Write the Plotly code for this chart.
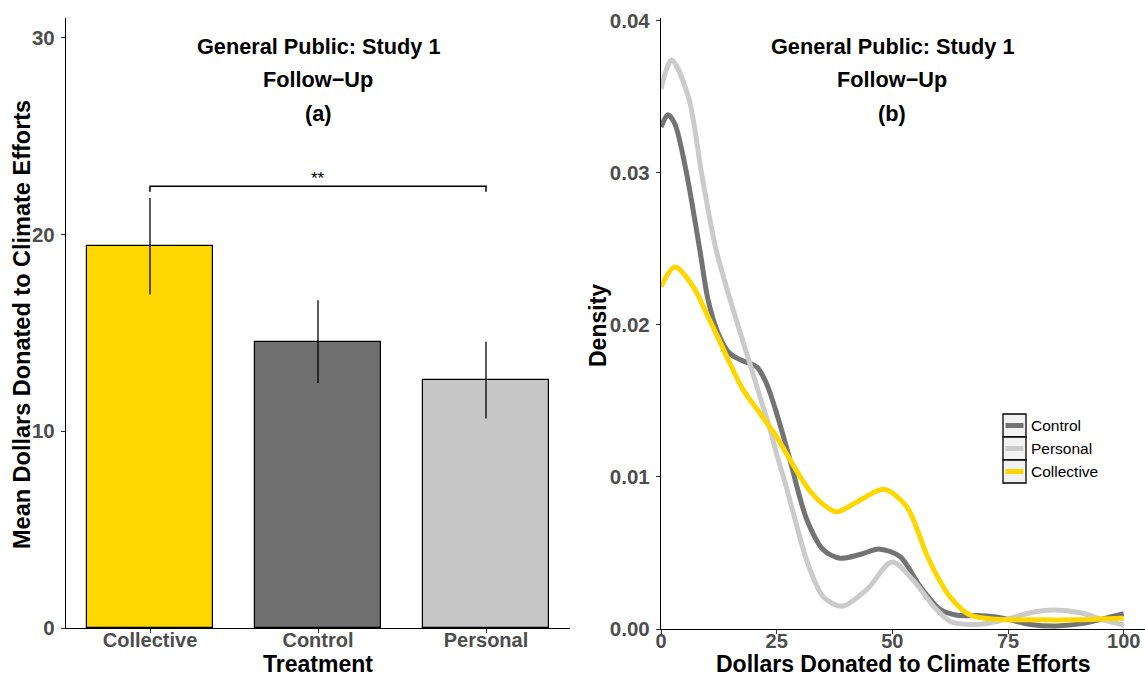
import plotly.graph_objects as go

# ---------------- data ----------------
treatments = ["Collective", "Control", "Personal"]
mean_donation = [19.4, 14.55, 12.6]
se_donation = [2.45, 2.1, 1.95]
bar_colors = ["#FFD700", "#707070", "#C6C6C6"]

sig_pair = ["Collective", "Personal"]
sig_height = 22.45
sig_drop = 0.28
sig_label = "**"

control_x = [0, 1.5, 3, 5.5, 8.4, 10.2, 12.4, 14.9, 17.4, 20.7, 22.8, 25, 27.5, 31.5, 35.1, 38.7,
             43, 47.3, 51.7, 56, 60.3, 64, 68, 72, 75.4, 79.8, 85.5, 91.3, 96, 100]
control_d = [0.0330, 0.0338, 0.0332, 0.0300, 0.0249, 0.0216, 0.0194, 0.0181, 0.01767, 0.01723,
             0.01614, 0.01417, 0.01154, 0.0072, 0.0052, 0.00465, 0.0049, 0.00525, 0.00475, 0.0028,
             0.0013, 0.0009, 0.00088, 0.0008, 0.0006, 0.0003, 0.0002, 0.00037, 0.0007, 0.001]

personal_x = [0, 2.3, 5.9, 8.8, 11.7, 14.2, 17.1, 19.2, 21.4, 23.6, 25, 27.2, 29.5, 31.5, 35.1,
              39.1, 44.5, 49.9, 54.5, 58.9, 62.5, 66.8, 71.1, 75.4, 79.8, 84.8, 90.6, 95.6, 100]
personal_d = [0.0355, 0.0374, 0.0350, 0.0299, 0.0252, 0.0224, 0.0195, 0.01745, 0.01526, 0.01307,
              0.0115, 0.0092, 0.0066, 0.0045, 0.0021, 0.0015, 0.0026, 0.0044, 0.0032, 0.0015,
              0.0005, 0.0003, 0.0004, 0.0007, 0.00107, 0.00125, 0.00107, 0.0006, 0.00026]

collective_x = [0, 3, 7, 9.9, 12.4, 14.9, 17.8, 21.4, 25, 27.5, 31.5, 35, 38, 43, 48.2, 53.1,
                57.4, 60, 62.5, 66.8, 72.6, 80, 90, 100]
collective_d = [0.0225, 0.0238, 0.02248, 0.0207, 0.0191, 0.01745, 0.0157, 0.01417, 0.01263,
                0.01132, 0.00935, 0.0082, 0.0077, 0.00847, 0.00918, 0.00804, 0.0049, 0.0033,
                0.0021, 0.00092, 0.00064, 0.0006, 0.0006, 0.0007]

density_series = [
    ("Control", control_x, control_d, "#737373"),
    ("Personal", personal_x, personal_d, "#CBCBCB"),
    ("Collective", collective_x, collective_d, "#FFD700"),
]

title_lines_a = ["General Public: Study 1", "Follow\u2212Up", "(a)"]
title_lines_b = ["General Public: Study 1", "Follow\u2212Up", "(b)"]

# ---------------- layout helpers ----------------
W, H = 1145, 676
FONT = "Liberation Sans, Arial, Helvetica, sans-serif"
TICK_GREY = "#4D4D4D"


def px(xp):
    return xp / W


def py(yp):
    return 1 - yp / H


fig = go.Figure()

# ---------------- panel (a): bars ----------------
fig.add_trace(go.Bar(
    x=treatments, y=mean_donation, width=0.75,
    marker=dict(color=bar_colors, line=dict(color="black", width=1.2)),
    error_y=dict(type="data", array=se_donation, color="black", thickness=1.3, width=0),
    xaxis="x", yaxis="y", showlegend=False,
))

fig.add_trace(go.Scatter(
    x=[sig_pair[0], sig_pair[0], sig_pair[1], sig_pair[1]],
    y=[sig_height - sig_drop, sig_height, sig_height, sig_height - sig_drop],
    mode="lines", line=dict(color="black", width=1.5),
    xaxis="x", yaxis="y", showlegend=False, hoverinfo="skip",
))

# ---------------- panel (b): density ----------------
for name, xs, ds, col in density_series:
    fig.add_trace(go.Scatter(
        x=xs, y=ds, mode="lines", name=name,
        line=dict(color=col, width=5, shape="spline", smoothing=0.85),
        xaxis="x2", yaxis="y2", showlegend=False,
    ))

axis_common = dict(
    showline=True, linecolor="black", linewidth=1.3,
    ticks="outside", ticklen=4, tickwidth=1.2, tickcolor="#333333",
    showgrid=False, zeroline=False, automargin=False,
)
tick_font = dict(family=FONT, size=20.5, color=TICK_GREY, weight="bold")
xtick_font = dict(family=FONT, size=20, color=TICK_GREY, weight="bold")

fig.update_layout(
    template="none",
    width=W, height=H,
    margin=dict(l=0, r=0, t=0, b=0, pad=0),
    paper_bgcolor="white", plot_bgcolor="white",
    bargap=0,
    xaxis=dict(domain=[px(66), px(570)], range=[-0.5, 2.5], type="category",
               anchor="y", ticklabelstandoff=-10, tickfont=xtick_font, **axis_common),
    yaxis=dict(domain=[py(628), py(18)], range=[0, 31.0], tickvals=[0, 10, 20, 30],
               anchor="x", ticklabelstandoff=2, tickfont=tick_font, **axis_common),
    xaxis2=dict(domain=[px(661), 1.0], range=[0, 104.6], tickvals=[0, 25, 50, 75, 100],
                anchor="y2", ticklabelstandoff=-10, tickfont=xtick_font, **axis_common),
    yaxis2=dict(domain=[py(629), py(18)], range=[0, 0.04 * 611 / 608.5],
                tickvals=[0, 0.01, 0.02, 0.03, 0.04], tickformat=".2f",
                anchor="x2", ticklabelstandoff=2, tickfont=tick_font, **axis_common),
)

ann = []
# titles
title_rows_px = [46, 80, 113]
title_font = dict(family=FONT, size=21.7, color="black", weight="bold")
for line, yp in zip(title_lines_a, title_rows_px):
    ann.append(dict(text=line, x=1, xref="x", y=py(yp), yref="paper", showarrow=False,
                    xanchor="center", yanchor="middle", font=title_font))
for line, yp in zip(title_lines_b, title_rows_px):
    ann.append(dict(text=line, x=50, xref="x2", y=py(yp), yref="paper", showarrow=False,
                    xanchor="center", yanchor="middle", font=title_font))

# significance stars
ann.append(dict(text=sig_label, x=1, xref="x", y=sig_height, yref="y", showarrow=False,
                xanchor="center", yanchor="bottom", yshift=-4,
                font=dict(family=FONT, size=17, color="black")))

# axis titles
axis_title_font = dict(family=FONT, size=23, color="black", weight="bold")
ann.append(dict(text="Treatment", x=1, xref="x", y=py(663.5), yref="paper", showarrow=False,
                xanchor="center", yanchor="middle", font=axis_title_font))
ann.append(dict(text="Mean Dollars Donated to Climate Efforts", x=px(22), xref="paper",
                y=py(325), yref="paper", showarrow=False, textangle=-90,
                xanchor="center", yanchor="middle",
                font=dict(family=FONT, size=23.5, color="black", weight="bold")))
ann.append(dict(text="Dollars Donated to Climate Efforts", x=px(903), xref="paper",
                y=py(663.5), yref="paper", showarrow=False,
                xanchor="center", yanchor="middle", font=axis_title_font))
ann.append(dict(text="Density", x=px(598), xref="paper", y=py(326), yref="paper",
                showarrow=False, textangle=-90, xanchor="center", yanchor="middle",
                font=dict(family=FONT, size=23, color="black", weight="bold")))

# custom legend (ggplot-style keys)
shapes = []
key_left, key_right = 1003, 1026
key_top, key_h = 414, 23
for i, (name, xs, ds, col) in enumerate(density_series):
    top = key_top + i * key_h
    bot = top + key_h
    shapes.append(dict(type="rect", xref="paper", yref="paper",
                       x0=px(key_left), x1=px(key_right), y0=py(bot), y1=py(top),
                       line=dict(color="black", width=1.3), fillcolor="#F2F2F2"))
    mid = (top + bot) / 2
    shapes.append(dict(type="line", xref="paper", yref="paper",
                       x0=px(key_left + 2.5), x1=px(key_right - 2.5), y0=py(mid), y1=py(mid),
                       line=dict(color=col, width=5)))
    ann.append(dict(text=name, x=px(1029), xref="paper", y=py(mid), yref="paper",
                    showarrow=False, xanchor="left", yanchor="middle",
                    font=dict(family=FONT, size=15.5, color="black")))

fig.update_layout(annotations=ann, shapes=shapes)

fig.write_html("out.html")
